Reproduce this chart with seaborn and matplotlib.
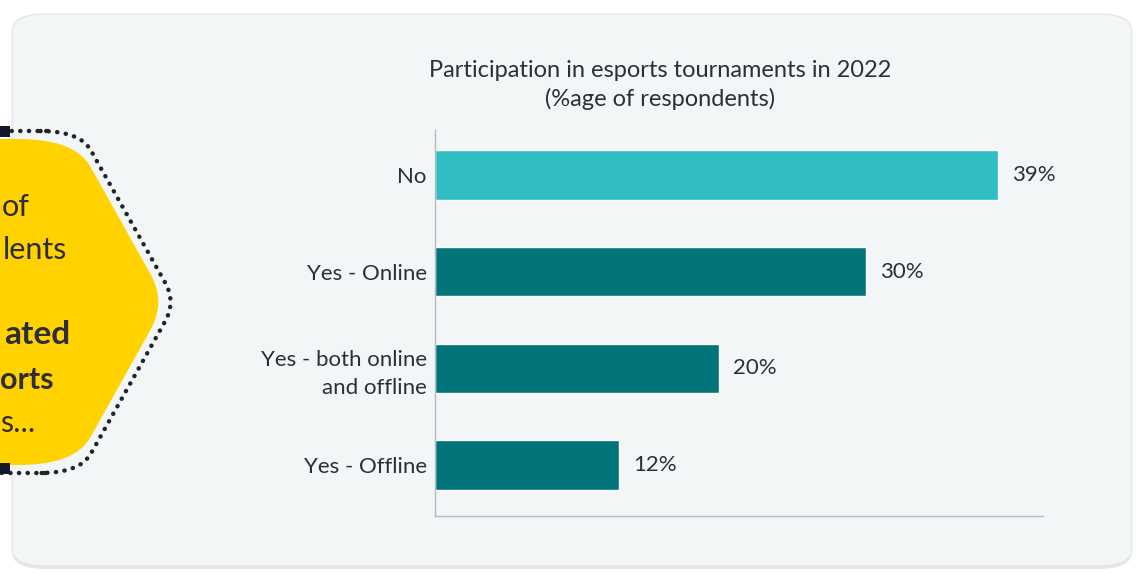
import numpy as np
import pandas as pd
import seaborn as sns
import matplotlib.pyplot as plt
from matplotlib.path import Path
from matplotlib.patches import PathPatch, FancyBboxPatch, Rectangle

# data
categories = ["No", "Yes - Online", "Yes - both online\nand offline", "Yes - Offline"]
values = [38.9, 29.8, 19.6, 12.7]
value_labels = ["39%", "30%", "20%", "12%"]
bar_colors = ["#31BEC2", "#01757A", "#01757A", "#01757A"]

title = "Participation in esports tournaments in 2022\n(%age of respondents)"
# visible part of the callout text (the rest is cut by the left edge)
callout_lines = [("of", "normal"), ("lents", "normal"),
                 ("ated", "bold"), ("orts", "bold"), ("s...", "normal")]

W, H = 1136, 573
sns.set_theme(style="white")
plt.rcParams["font.family"] = ["Lato", "DejaVu Sans"]
TEXT = "#2E2E38"

fig = plt.figure(figsize=(W / 100, H / 100), dpi=100)
fig.patch.set_facecolor("white")


def px(x, y):
    return x / W, 1 - y / H


def rounded_path(pts, r):
    # polygon with corners smoothed by quadratic curves
    pts = [np.array(px(*p)) for p in pts]
    n = len(pts)
    verts, codes = [], []
    for i in range(n):
        p0, p1, p2 = pts[i - 1], pts[i], pts[(i + 1) % n]
        a = p1 + (p0 - p1) / np.linalg.norm(p0 - p1) * r
        b = p1 + (p2 - p1) / np.linalg.norm(p2 - p1) * r
        verts += [a, p1, b]
        codes += [Path.LINETO if i else Path.MOVETO, Path.CURVE3, Path.CURVE3]
    verts.append(verts[0])
    codes.append(Path.CLOSEPOLY)
    return Path(verts, codes)


# panel background with soft shadow
for off, col in [(3, "#E4E6E8"), (0, "#F3F6F7")]:
    fig.patches.append(FancyBboxPatch(px(12, 566 + off), 1120 / W, 552 / H,
                                      boxstyle="round,pad=0,rounding_size=0.03",
                                      transform=fig.transFigure, facecolor=col,
                                      edgecolor="#E2E4E6" if off == 0 else "none",
                                      linewidth=0.8, zorder=-5))

# callout shape on the left
hexa = [(-80, 139), (75, 139), (166, 302), (75, 465), (-80, 465)]
fig.patches.append(PathPatch(rounded_path(hexa, 0.05), transform=fig.transFigure,
                             facecolor="#FFD200", edgecolor="none", zorder=1))
dots = [(8, 131), (80, 131), (176, 302), (80, 473), (8, 473), (-80, 473), (-80, 131)]
fig.patches.append(PathPatch(rounded_path(dots, 0.035), transform=fig.transFigure,
                             facecolor="none", edgecolor="#23232B", linewidth=3.2,
                             linestyle=(0, (0.05, 1.9)), capstyle="round", zorder=1))
for yy in (131, 468):
    fig.patches.append(Rectangle(px(0, yy + 6), 10 / W, 11 / H, transform=fig.transFigure,
                                 facecolor="#14182A", edgecolor="none", zorder=2))

line_y = [207, 250, 335, 380, 423]
line_x = [30, 67, 70, 54, 35]
sizes = [22, 22, 24, 22, 22]
for (txt, wt), x, y, fs in zip(callout_lines, line_x, line_y, sizes):
    fig.text(*px(x, y), txt, ha="right", va="center", fontsize=fs,
             fontweight=wt, color=TEXT, zorder=3)

# bar chart
ax = fig.add_axes([435 / W, 1 - 516 / H, (1043 - 435) / W, (516 - 130) / H], zorder=5)
ax.set_facecolor("none")
df = pd.DataFrame({"answer": categories, "share": values})
sns.barplot(data=df, x="share", y="answer", hue="answer", palette=bar_colors,
            legend=False, width=0.51, orient="h", saturation=1, ax=ax)
ax.set_xlim(0, 42)
ax.set_ylim(3.527, -0.465)
ax.set_xlabel("")
ax.set_ylabel("")
ax.set_xticks([])
ax.tick_params(axis="y", length=0, pad=6, labelsize=16, labelcolor=TEXT)
for lab in ax.get_yticklabels():
    lab.set_linespacing(1.45)
for s in ["top", "right"]:
    ax.spines[s].set_visible(False)
for s in ["left", "bottom"]:
    ax.spines[s].set_color("#B4BBC0")
    ax.spines[s].set_linewidth(1)

for i, (v, lab) in enumerate(zip(values, value_labels)):
    ax.annotate(lab, (v, i), xytext=(10, 0), textcoords="offset points",
                ha="left", va="center", fontsize=16, color=TEXT)

fig.text(*px(660, 85), title, ha="center", va="center", fontsize=17,
         color=TEXT, linespacing=1.4)

fig.savefig("out.png", dpi=100)
